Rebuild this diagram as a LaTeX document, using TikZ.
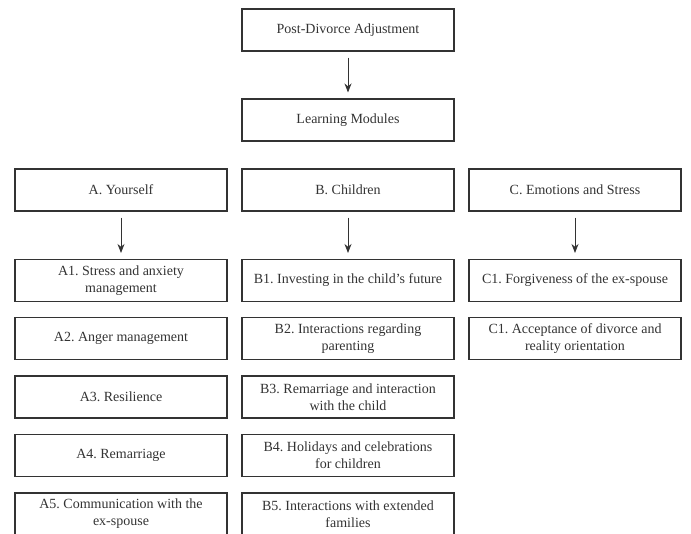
\documentclass[tikz,border=0pt]{standalone}
\usepackage{fontspec}
\setmainfont{Liberation Serif}
\usetikzlibrary{arrows.meta}
\frenchspacing

\begin{document}
\begin{tikzpicture}[x=1pt,y=-1pt,font=\fontsize{14}{17}\selectfont,text=black!80,draw=black!80]
    \tikzstyle{modbox}=[rectangle,draw,line width=1.1pt,minimum width=212pt,minimum height=42pt,inner sep=0pt,align=center]
    \tikzstyle{flow}=[-{Stealth[length=9pt,width=7pt]},line width=0.8pt,shorten <=6pt,shorten >=6pt]

    \useasboundingbox (0,0) rectangle (691,533);

    \node[modbox] (adjust) at (348,30) {Post-Divorce Adjustment};
    \node[modbox] (modules) at (348,120) {Learning Modules};

    \node[modbox] (yourself) at (121,190) {A. Yourself};
    \node[modbox] (children) at (348,190) {B. Children};
    \node[modbox] (emotions) at (575,190) {C. Emotions and Stress};

    % A. Yourself
    \node[modbox] (a1) at (121,280.5) {A1. Stress and anxiety\\management};
    \node[modbox] (a2) at (121,338.5) {A2. Anger management};
    \node[modbox] (a3) at (121,397) {A3. Resilience};
    \node[modbox] (a4) at (121,455.5) {A4. Remarriage};
    \node[modbox] (a5) at (121,514) {A5. Communication with the\\ex-spouse};

    % B. Children
    \node[modbox] (b1) at (348,280.5) {B1. Investing in the child's future};
    \node[modbox] (b2) at (348,338.5) {B2. Interactions regarding\\parenting};
    \node[modbox] (b3) at (348,397) {B3. Remarriage and interaction\\with the child};
    \node[modbox] (b4) at (348,455.5) {B4. Holidays and celebrations\\for children};
    \node[modbox] (b5) at (348,514) {B5. Interactions with extended\\families};

    % C. Emotions and Stress
    \node[modbox] (c1) at (575,280.5) {C1. Forgiveness of the ex-spouse};
    \node[modbox] (c2) at (575,338.5) {C1. Acceptance of divorce and\\reality orientation};

    \draw[flow] (adjust) -- (modules);
    \draw[flow] (yourself) -- (a1);
    \draw[flow] (children) -- (b1);
    \draw[flow] (emotions) -- (c1);
\end{tikzpicture}
\end{document}
